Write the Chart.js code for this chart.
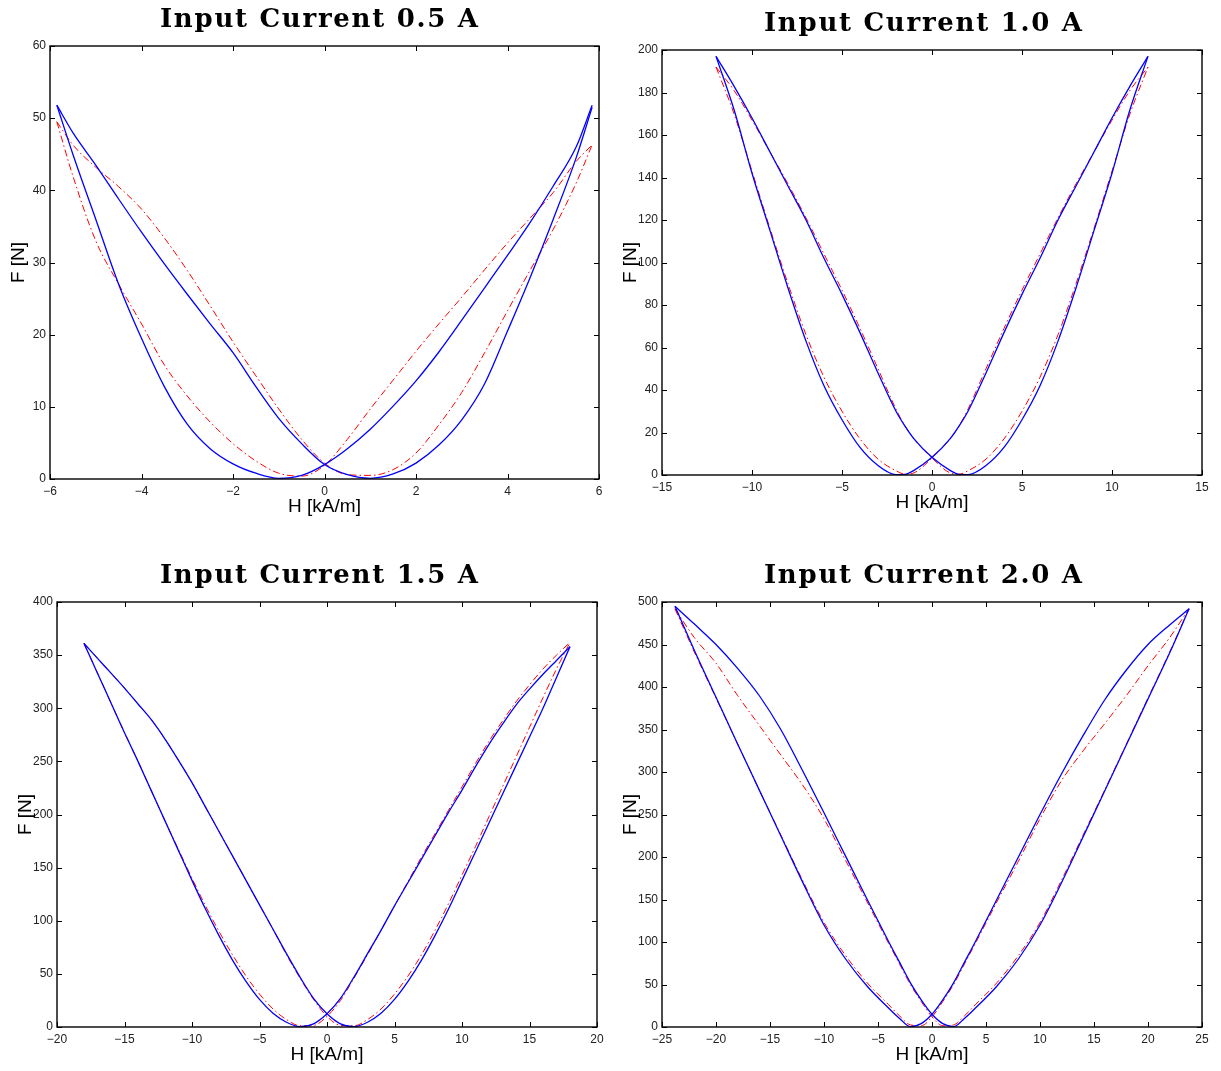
<!DOCTYPE html>
<html><head><meta charset="utf-8">
<script src="https://cdn.jsdelivr.net/npm/chart.js@4.4.1/dist/chart.umd.min.js"></script>
<style>
html,body{margin:0;padding:0;background:#fff;}
body{width:1221px;height:1071px;position:relative;overflow:hidden;}
canvas{position:absolute;}
</style></head><body>
<canvas id="c1" width="610" height="545" style="left:0;top:0;width:610px;height:545px"></canvas>
<canvas id="c2" width="611" height="545" style="left:610px;top:0;width:611px;height:545px"></canvas>
<canvas id="c3" width="610" height="526" style="left:0;top:545px;width:610px;height:526px"></canvas>
<canvas id="c4" width="611" height="526" style="left:610px;top:545px;width:611px;height:526px"></canvas>
<script>
// ---------- Panel 1: 0.5 A ----------
const H1 = [-5.85,-5.5,-5,-4.5,-4,-3.5,-3,-2.5,-2,-1.5,-1,-0.5,0,0.5,1,1.5,2,2.5,3,3.5,4,4.5,5,5.5,5.85];
const blueA1 = [51.8,45,36,27,19.5,12.8,7.6,4.2,2.1,0.8,0.1,0.5,2.0,4.2,6.9,10.1,13.6,17.6,22,26.5,31,35.6,40.6,46,51.8];
const blueB1 = [51.8,48,43.5,38.8,34.2,29.8,25.6,21.5,17.5,12.8,8.4,4.9,2.0,0.6,0.1,0.7,2.2,4.7,8.2,13.2,20.5,28,36,44.5,51.5];
const redA1  = [49.5,42,33,27,21.5,15.8,11.5,7.9,4.9,2.5,0.8,0.4,1.9,5.5,9.7,13.7,17.7,21.5,25.2,29,32.7,36.2,39.7,44,46.3];
const redB1  = [49.5,46.3,43.2,40.5,37.4,33.4,28.9,24,19,14.3,9.7,5.5,2.2,0.6,0.5,1.3,3.6,7.5,12,17.5,23.3,29,34.6,41,46.3];

// ---------- Panel 2: 1.0 A ----------
const H2 = [-12,-11,-10,-9,-8,-7,-6,-5,-4,-3,-2,-1.5,-1,0,1,1.5,2,3,4,5,6,7,8,9,10,11,12];
const blueA2 = [197,172,142,115,88,63,42,26,13,4.5,0.2,0.3,2.2,8.3,17,23,30,48,67,85,102,120,136,152,168,183,197];
const blueB2 = [197,183,168,152,136,120,102,85,67,48,30,23,17,8.3,2.2,0.3,0.2,4.5,13,26,42,63,88,115,142,172,197];
const redA2  = [192,170,143,116,90,66,46,30,17,7.5,2,0.4,1,8,17,23,31,50,69,87,104,121,137,152,167,181,192];
const redB2  = [192,181,167,152,137,121,104,87,69,50,31,23,17,8,1,0.4,2,7.5,17,30,46,66,90,116,143,170,192];

// ---------- Panel 3: 1.5 A ----------
const H3 = [-18,-17,-16,-15,-14,-13,-12,-11,-10,-9,-8,-7,-6,-5,-4,-3,-2,-1,0,1,2,3,4,5,6,7,8,9,10,11,12,13,14,15,16,17,18];
const blueA3 = [361,333,305,277,250,222,194,166,138,111,86,63,43,26,13,4.5,0.3,3,12.5,27,47,69,91,114,136,158,180,202,223,245,266,285,303,318,332,345,358];
const blueB3 = [361,347,333,319,304,289,271,251,230,207,184,161,138,115,92,69,47,27,12.5,3,0.3,4.5,13,26,43,63,86,111,138,165,192,219,246,273,300,329,358];
const redA3  = [361,333,305,277,250,222,194,167,140,114,90,68,48,31,17,7,1.2,1.5,10,25,46,68,91,114,137,160,182,204,226,248,269,288,306,322,337,350,362];
const redB3  = [361,347,333,319,304,289,271,251,230,207,184,161,138,115,92,68,46,26,10,1.5,1.2,7,17,31,48,68,91,116,143,170,198,226,254,282,310,337,362];

// ---------- Panel 4: 2.0 A ----------
const H4 = [-23.8,-22,-20,-18,-16,-14,-12,-10,-8,-6,-4,-3,-2,-1,0,1,2,3,4,6,8,10,12,14,16,18,20,22,23.8];
const blueA4 = [495,443,388,333,279,225,171,120,80,48,22,10,0.5,4,15,32,52,76,100,150,200,250,298,343,385,420,450,473,492];
const blueB4 = [495,474,450,422,390,350,302,252,201,150,100,76,52,32,15,4,0.5,10,22,48,80,120,170,224,278,332,386,440,492];
const redA4  = [492,441,387,333,279,226,173,123,84,52,26,13,2.5,1.5,12,30,50,74,98,147,195,245,290,325,357,390,425,458,492];
const redB4  = [492,458,428,390,355,320,285,245,196,147,98,74,50,30,12,1.5,2.5,13,26,52,84,123,173,226,279,333,387,441,492];

// ---------- tick settings [min, max, step] ----------
const xTicks1 = [-6,6,2],  yTicks1 = [0,60,10];
const xTicks2 = [-15,15,5], yTicks2 = [0,200,20];
const xTicks3 = [-20,20,5], yTicks3 = [0,400,50];
const xTicks4 = [-25,25,5], yTicks4 = [0,500,50];

const titles = ['Input Current 0.5 A','Input Current 1.0 A','Input Current 1.5 A','Input Current 2.0 A'];
const xLabel = 'H [kA/m]', yLabel = 'F [N]';

const panels = [
  {id:'c1', cx:0,   cy:0,   cw:610, ch:545, box:[50,46,599,479],    tc:319,  tb:27, h:H1, bA:blueA1, bB:blueB1, rA:redA1, rB:redB1, xt:xTicks1, yt:yTicks1, title:titles[0]},
  {id:'c2', cx:610, cy:0,   cw:611, ch:545, box:[662,50,1202,475],  tc:923,  tb:31, h:H2, bA:blueA2, bB:blueB2, rA:redA2, rB:redB2, xt:xTicks2, yt:yTicks2, title:titles[1]},
  {id:'c3', cx:0,   cy:545, cw:610, ch:526, box:[57,602,597,1027],  tc:319,  tb:583, h:H3, bA:blueA3, bB:blueB3, rA:redA3, rB:redB3, xt:xTicks3, yt:yTicks3, title:titles[2]},
  {id:'c4', cx:610, cy:545, cw:611, ch:526, box:[662,602,1202,1027],tc:923,  tb:583, h:H4, bA:blueA4, bB:blueB4, rA:redA4, rB:redB4, xt:xTicks4, yt:yTicks4, title:titles[3]}
];

const YW = 40, XH = 30;
const fmt = v => String(v).replace('-', '\u2212');
const pts = (h, f) => h.map((x, i) => ({x: x, y: f[i]}));

const decor = {
  id: 'decor',
  afterDraw(chart) {
    const o = chart.options.plugins.decor;
    const {ctx, chartArea: a, scales: {x, y}} = chart;
    ctx.save();
    ctx.strokeStyle = '#000';
    ctx.lineWidth = 1;
    ctx.beginPath();
    x.ticks.forEach(t => {
      const px = Math.round(x.getPixelForValue(t.value)) + 0.5;
      ctx.moveTo(px, a.bottom); ctx.lineTo(px, a.bottom - 5);
      ctx.moveTo(px, a.top); ctx.lineTo(px, a.top + 5);
    });
    y.ticks.forEach(t => {
      const py = Math.round(y.getPixelForValue(t.value)) + 0.5;
      ctx.moveTo(a.left, py); ctx.lineTo(a.left + 5, py);
      ctx.moveTo(a.right, py); ctx.lineTo(a.right - 5, py);
    });
    ctx.stroke();
    ctx.lineWidth = 1.4;
    ctx.strokeRect(a.left, a.top, a.right - a.left, a.bottom - a.top);
    // axis titles
    ctx.fillStyle = '#000';
    ctx.font = '19px "Liberation Sans", Arial, sans-serif';
    ctx.textAlign = 'center';
    ctx.textBaseline = 'middle';
    ctx.fillText(xLabel, (a.left + a.right) / 2, a.bottom + 28);
    ctx.save();
    ctx.translate(a.left - 31, (a.top + a.bottom) / 2);
    ctx.rotate(-Math.PI / 2);
    ctx.fillText(yLabel, 0, 0);
    ctx.restore();
    // chart title
    ctx.font = 'bold 26px "DejaVu Serif", serif';
    ctx.textBaseline = 'alphabetic';
    ctx.textAlign = 'left';
    const txt = o.title;
    const w0 = ctx.measureText(txt).width;
    const target = 318;
    const ls = (target - w0) / (txt.length - 1);
    ctx.letterSpacing = ls.toFixed(2) + 'px';
    ctx.fillText(txt, o.tc - target / 2, o.tb);
    ctx.restore();
  }
};

panels.forEach(p => {
  const [L, T, R, B] = p.box;
  const pad = {
    left: L - p.cx - YW,
    top: T - p.cy,
    right: p.cx + p.cw - R,
    bottom: p.cy + p.ch - B - XH
  };
  const blue = {borderColor: '#0000ff', borderWidth: 1.3, showLine: true, pointRadius: 0, cubicInterpolationMode: 'monotone', fill: false};
  const red = {borderColor: '#ff0000', borderWidth: 1, showLine: true, pointRadius: 0, cubicInterpolationMode: 'monotone', fill: false, borderDash: [7, 3, 1.5, 3]};
  new Chart(document.getElementById(p.id), {
    type: 'scatter',
    data: {
      datasets: [
        Object.assign({label: 'measured A', data: pts(p.h, p.bA)}, blue),
        Object.assign({label: 'measured B', data: pts(p.h, p.bB)}, blue),
        Object.assign({label: 'model A', data: pts(p.h, p.rA)}, red),
        Object.assign({label: 'model B', data: pts(p.h, p.rB)}, red)
      ]
    },
    options: {
      responsive: false,
      animation: false,
      devicePixelRatio: 1,
      layout: {padding: pad},
      plugins: {legend: {display: false}, tooltip: {enabled: false}, decor: {title: p.title, tc: p.tc - p.cx, tb: p.tb - p.cy}},
      scales: {
        x: {
          type: 'linear', min: p.xt[0], max: p.xt[1],
          afterFit: s => { s.height = XH; },
          grid: {display: false, drawTicks: false},
          border: {display: false},
          ticks: {stepSize: p.xt[2], padding: 5, color: '#222', font: {family: '"Liberation Sans", Arial, sans-serif', size: 12}, callback: fmt, maxRotation: 0, autoSkip: false}
        },
        y: {
          type: 'linear', min: p.yt[0], max: p.yt[1],
          afterFit: s => { s.width = YW; },
          grid: {display: false, drawTicks: false},
          border: {display: false},
          ticks: {stepSize: p.yt[2], padding: 4, color: '#222', font: {family: '"Liberation Sans", Arial, sans-serif', size: 12}, callback: fmt, autoSkip: false}
        }
      }
    },
    plugins: [decor]
  });
});
</script>
</body></html>
